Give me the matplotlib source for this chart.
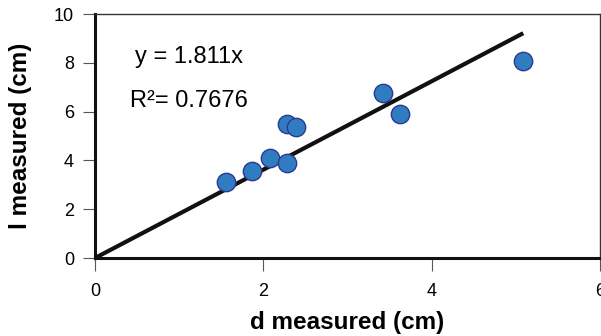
import numpy as np
import matplotlib
matplotlib.use('Agg')
import matplotlib.pyplot as plt

plt.rcParams['font.family'] = ['Liberation Sans', 'DejaVu Sans']

# data
d_meas = [1.56, 1.87, 2.08, 2.28, 2.28, 2.39, 3.42, 3.63, 5.09]
l_meas = [3.13, 3.57, 4.09, 3.88, 5.48, 5.36, 6.75, 5.90, 8.09]
slope = 1.811
r2 = 0.7676

fig = plt.figure(figsize=(6.01, 3.36), dpi=100)
ax = fig.add_axes([0.158, 0.232, 0.840, 0.726])

xfit = np.array([0, max(d_meas)])
ax.plot(xfit, slope*xfit, color='#111111', lw=3.0, zorder=2, solid_capstyle='butt')
ax.scatter(d_meas, l_meas, s=175, c='#2f7dc0', edgecolors='#2b3990', linewidths=1.0, zorder=3)

ax.text(0.48, 8.0, f'y = {slope}x', fontsize=17)
ax.text(0.42, 6.2, f'R²= {r2}', fontsize=17)

ax.set_xlim(0, 6)
ax.set_ylim(0, 10)
ax.set_xticks([0, 2, 4, 6])
ax.set_yticks([0, 2, 4, 6, 8, 10])
ax.tick_params(direction='out', length=9, width=0.8, color='#555555', labelsize=13)
ax.tick_params(axis='x', pad=9)
ax.tick_params(axis='y', pad=6)
for side in ['left', 'bottom']:
    ax.spines[side].set_linewidth(2.2)
    ax.spines[side].set_color('#111111')
for side in ['top', 'right']:
    ax.spines[side].set_linewidth(1.0)
    ax.spines[side].set_color('#333333')

ax.set_xlabel('d measured (cm)', fontsize=17.5, fontweight='bold', labelpad=8)
ax.set_ylabel('l measured (cm)', fontsize=17.5, fontweight='bold', labelpad=16)

fig.savefig('out.png', dpi=100)
